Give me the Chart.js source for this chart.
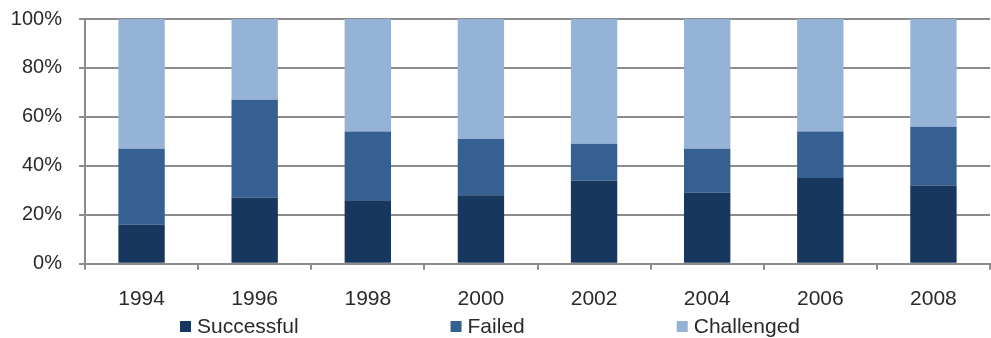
<!DOCTYPE html>
<html>
<head>
<meta charset="utf-8">
<script src="https://cdn.jsdelivr.net/npm/chart.js@4/dist/chart.umd.min.js"></script>
<style>
  html, body { margin: 0; padding: 0; background: #ffffff; }
  #wrap { width: 991px; height: 338px; }
</style>
</head>
<body>
<div id="wrap"><canvas id="chart" width="991" height="338"></canvas></div>
<script>
// Project outcomes by survey year (share of projects, %)
const years = ['1994', '1996', '1998', '2000', '2002', '2004', '2006', '2008'];
const successful = [16, 27, 26, 28, 34, 29, 35, 32];
const failed     = [31, 40, 28, 23, 15, 18, 19, 24];
const challenged = [53, 33, 46, 49, 51, 53, 46, 44];
const seriesNames = ['Successful', 'Failed', 'Challenged'];
const yTicks = [0, 20, 40, 60, 80, 100];

const AXIS_GRAY = '#8c8c8c';
const TEXT = '#2a2a2a';
const FONT = '"Liberation Sans", Arial, Helvetica, sans-serif';

// Legend row drawn under the axis labels
const bottomLegend = {
  id: 'bottomLegend',
  afterDraw(chart) {
    const ctx = chart.ctx;
    const box = 11, gapText = 6, gapItem = 152;
    ctx.save();
    ctx.font = '21px ' + FONT;
    ctx.textBaseline = 'alphabetic';
    ctx.textAlign = 'left';
    let x = 180;
    const y = 333;
    chart.data.datasets.forEach(ds => {
      ctx.fillStyle = ds.backgroundColor;
      ctx.fillRect(x, y - 12, box, box);
      ctx.fillStyle = TEXT;
      const tx = x + box + gapText;
      ctx.fillText(ds.label, tx, y);
      x = tx + ctx.measureText(ds.label).width + gapItem;
    });
    ctx.restore();
  }
};

new Chart(document.getElementById('chart'), {
  type: 'bar',
  data: {
    labels: years,
    datasets: [
      { label: seriesNames[0], data: successful, backgroundColor: '#17375e' },
      { label: seriesNames[1], data: failed,     backgroundColor: '#376092' },
      { label: seriesNames[2], data: challenged, backgroundColor: '#95b3d7' }
    ]
  },
  options: {
    responsive: false,
    animation: false,
    devicePixelRatio: 1,
    layout: { padding: { top: 19, right: 1, bottom: 9, left: 0 } },
    datasets: { bar: { barPercentage: 0.41, categoryPercentage: 1.0 } },
    plugins: { legend: { display: false }, tooltip: { enabled: false } },
    scales: {
      x: {
        stacked: true,
        grid: {
          offset: true,
          drawOnChartArea: true,
          color: c => (c.index === years.length ? AXIS_GRAY : 'rgba(0,0,0,0)'),
          tickColor: AXIS_GRAY,
          lineWidth: 2,
          tickLength: 6
        },
        border: { display: true, color: AXIS_GRAY, width: 2 },
        ticks: { color: TEXT, font: { family: FONT, size: 21 }, padding: 17, maxRotation: 0 }
      },
      y: {
        stacked: true,
        min: 0,
        max: 100,
        afterFit: s => { s.width = 85; s.paddingTop = 0; s.paddingBottom = 0; },
        afterBuildTicks: s => { s.ticks = yTicks.map(v => ({ value: v })); },
        grid: { color: AXIS_GRAY, lineWidth: 2, tickLength: 6, tickColor: AXIS_GRAY },
        border: { display: true, color: AXIS_GRAY, width: 2 },
        ticks: {
          color: TEXT,
          font: { family: FONT, size: 20 },
          padding: 17,
          callback: v => v + '%'
        }
      }
    }
  },
  plugins: [bottomLegend]
});
</script>
</body>
</html>
